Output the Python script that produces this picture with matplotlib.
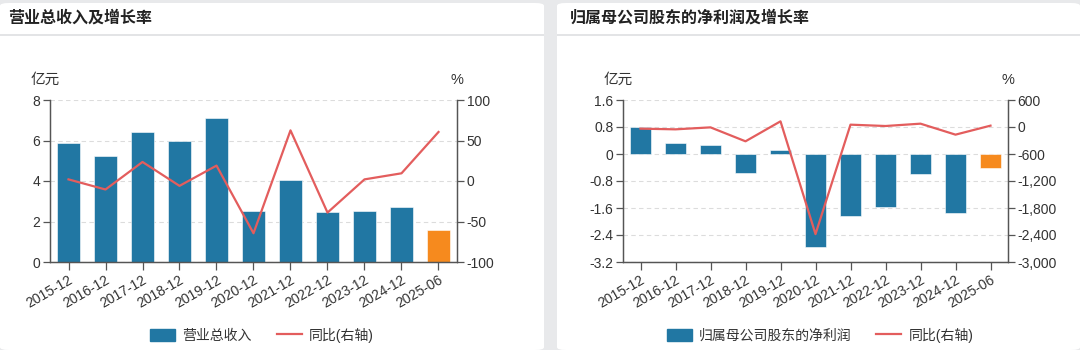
import matplotlib.pyplot as plt
from matplotlib.patches import Patch, FancyBboxPatch, Rectangle
from matplotlib.lines import Line2D
from matplotlib.ticker import FuncFormatter

plt.rcParams['font.family'] = ['Liberation Sans', 'Noto Sans CJK SC', 'DejaVu Sans']

periods = ['2015-12', '2016-12', '2017-12', '2018-12', '2019-12', '2020-12',
           '2021-12', '2022-12', '2023-12', '2024-12', '2025-06']

revenue = [5.88, 5.25, 6.43, 6.00, 7.10, 2.51, 4.06, 2.46, 2.50, 2.72, 1.57]
revenue_yoy = [2.0, -10.5, 23.5, -6.0, 19.0, -64.5, 62.5, -39.0, 2.0, 9.5, 60.5]

net_profit = [0.81, 0.33, 0.26, -0.57, 0.12, -2.76, -1.84, -1.58, -0.59, -1.74, -0.40]
net_profit_yoy = [-37, -52, -8, -318, 126, -2380, 52, 22, 74, -170, 30]

W, H = 1080, 350
BLUE = '#2177a3'
ORANGE = '#f68a1e'
RED = '#e35d5d'
AXC = '#555555'
TXT = '#333333'


def box(x0, y0, x1, y1):
    return [x0 / W, 1 - y1 / H, (x1 - x0) / W, (y1 - y0) / H]


fig = plt.figure(figsize=(W / 100, H / 100), dpi=100)
fig.patch.set_facecolor('#e8e9eb')

# white panels + title separators
for x0, x1 in [(0, 544), (557, 1080)]:
    fig.add_artist(FancyBboxPatch((x0 / W, 0), (x1 - x0) / W, 1 - 3 / H,
                                  boxstyle='round,pad=0,rounding_size=0.008',
                                  transform=fig.transFigure, facecolor='white',
                                  edgecolor='none', zorder=0))
    fig.add_artist(Rectangle((x0 / W, 1 - 36 / H), (x1 - x0) / W, 2 / H,
                             transform=fig.transFigure, facecolor='#e3e4e6',
                             edgecolor='none', zorder=1))


def draw_panel(x0, x1, title, title_x, values, yoy, ylim, yticks, rlim, rticks,
               bar_label, legend_x, fmt_left, fmt_right):
    ax = fig.add_axes(box(x0, 100, x1, 262))
    xs = list(range(len(periods)))
    colors = [BLUE] * (len(periods) - 1) + [ORANGE]
    ax.bar(xs, values, width=0.6, color=colors, edgecolor='white', linewidth=0.4, zorder=2)
    ax.set_xlim(-0.5, len(periods) - 0.5)
    ax.set_ylim(*ylim)
    ax.set_yticks(yticks)
    ax.yaxis.set_major_formatter(FuncFormatter(fmt_left))
    ax.set_xticks(xs)
    ax.set_xticklabels(periods, rotation=30, ha='right', rotation_mode='anchor')
    ax.grid(axis='y', color='#dcdcdc', linestyle=(0, (4, 3)), linewidth=0.8, zorder=0)
    ax.set_axisbelow(True)
    ax.spines['top'].set_visible(False)
    for s in ['left', 'right', 'bottom']:
        ax.spines[s].set_color(AXC)
        ax.spines[s].set_linewidth(0.9)
    ax.tick_params(axis='y', colors=AXC, labelcolor=TXT, labelsize=10, length=5, width=0.9, pad=2)
    ax.tick_params(axis='x', colors=AXC, labelcolor=TXT, labelsize=10, length=6, width=0.9, pad=2)

    ax2 = ax.twinx()
    ax2.plot(xs, yoy, color=RED, linewidth=1.6, zorder=3)
    ax2.set_ylim(*rlim)
    ax2.set_yticks(rticks)
    ax2.yaxis.set_major_formatter(FuncFormatter(fmt_right))
    ax2.spines['top'].set_visible(False)
    for s in ['left', 'right', 'bottom']:
        ax2.spines[s].set_color(AXC)
        ax2.spines[s].set_linewidth(0.9)
    ax2.tick_params(axis='y', colors=AXC, labelcolor=TXT, labelsize=10, length=5, width=0.9, pad=2)

    fig.text((x0 - 5) / W, 1 - 80 / H, '亿元', ha='center', va='center', fontsize=10.5, color=TXT)
    fig.text(x1 / W, 1 - 80 / H, '%', ha='center', va='center', fontsize=10.5, color=TXT)
    fig.text(title_x / W, 1 - 18 / H, title, ha='left', va='center', fontsize=11.5,
             fontweight='bold', color='#222222')

    handles = [Patch(facecolor=BLUE, edgecolor=BLUE, label=bar_label),
               Line2D([0], [0], color=RED, linewidth=1.6, label='同比(右轴)')]
    fig.legend(handles=handles, loc='center', bbox_to_anchor=(legend_x / W, 1 - 335 / H),
               ncol=2, frameon=False, fontsize=10, handlelength=1.8, handleheight=1.0,
               columnspacing=1.8, handletextpad=0.5, labelcolor=TXT)


draw_panel(50, 457, '营业总收入及增长率', 8, revenue, revenue_yoy,
           (0, 8), [0, 2, 4, 6, 8], (-100, 100), [-100, -50, 0, 50, 100],
           '营业总收入', 262,
           lambda v, p: f'{v:g}', lambda v, p: f'{v:g}')

draw_panel(623, 1008, '归属母公司股东的净利润及增长率', 570, net_profit, net_profit_yoy,
           (-3.2, 1.6), [-3.2, -2.4, -1.6, -0.8, 0, 0.8, 1.6],
           (-3000, 600), [-3000, -2400, -1800, -1200, -600, 0, 600],
           '归属母公司股东的净利润', 820,
           lambda v, p: '0' if abs(v) < 1e-9 else f'{v:.1f}', lambda v, p: f'{v:,.0f}')

fig.savefig('out.png', dpi=100, facecolor=fig.get_facecolor())
